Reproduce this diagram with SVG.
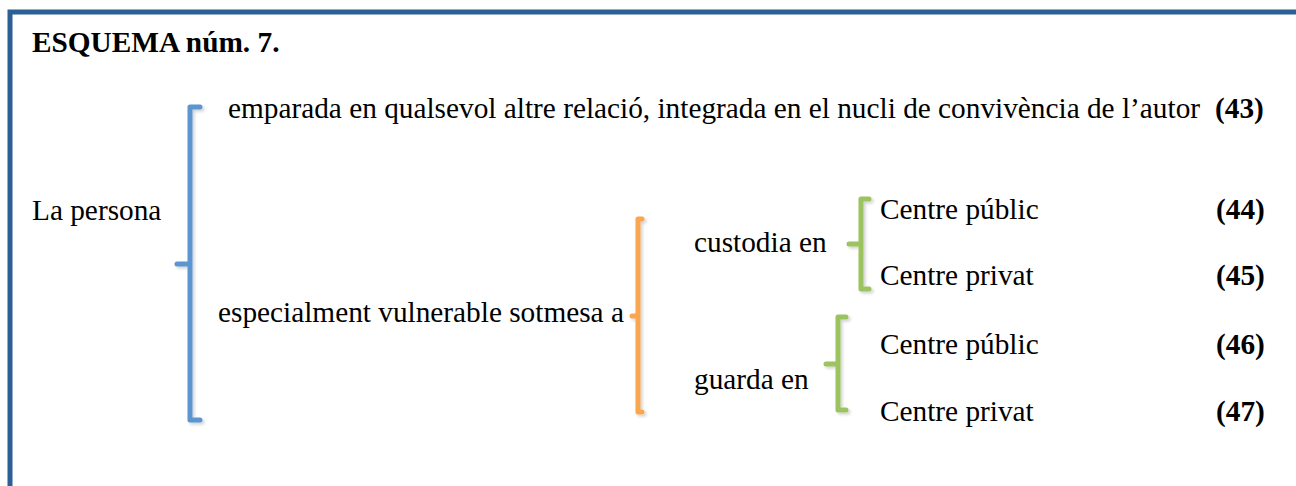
<svg xmlns="http://www.w3.org/2000/svg" width="1296" height="486" viewBox="0 0 1296 486">
<style>
text{font-family:'Liberation Serif','Times New Roman',Tinos,serif;font-size:29.3px;fill:#000}
.b{font-weight:bold}
.br{fill:none;stroke-width:5;stroke-linecap:round;stroke-linejoin:round}
.blue{stroke:#5b95cf}
.orange{stroke:#f9a650}
.green{stroke:#9bc35e}
</style>
<defs>
<filter id="sh" x="-50%" y="-10%" width="200%" height="120%">
<feDropShadow dx="2" dy="2" stdDeviation="1.5" flood-color="#000" flood-opacity="0.18"/>
</filter>
</defs>
<rect x="0" y="0" width="1296" height="486" fill="#fff"/>
<path d="M10,490 V12 H1300" fill="none" stroke="#2b5f95" stroke-width="5"/>
<g id="title"><text x="32" y="52" class="b">ESQUEMA núm. 7.</text></g>
<g id="connectors" filter="url(#sh)">
<path class="br blue" d="M200,107 H190 V420 H200 M190,264 H177"/>
<path class="br orange" d="M642,219 H638 V412 H642 M638,316 H632"/>
<path class="br green" d="M869,199 H861 V289 H869 M861,244 H849"/>
<path class="br green" d="M846,317 H838 V410 H846 M838,364 H826"/>
</g>
<g id="root"><text x="32" y="220">La persona</text></g>
<g id="n43"><text x="228" y="118">emparada en qualsevol altre relació, integrada en el nucli de convivència de l’autor</text><text x="1215" y="118" class="b">(43)</text></g>
<g id="vulnerable"><text x="218" y="322">especialment vulnerable sotmesa a</text></g>
<g id="custodia"><text x="694" y="252">custodia en</text></g>
<g id="guarda"><text x="694" y="389">guarda en</text></g>
<g id="n44"><text x="880" y="219">Centre públic</text><text x="1216" y="219" class="b">(44)</text></g>
<g id="n45"><text x="880" y="285">Centre privat</text><text x="1216" y="285" class="b">(45)</text></g>
<g id="n46"><text x="880" y="354">Centre públic</text><text x="1216" y="354" class="b">(46)</text></g>
<g id="n47"><text x="880" y="421">Centre privat</text><text x="1216" y="421" class="b">(47)</text></g>
</svg>
